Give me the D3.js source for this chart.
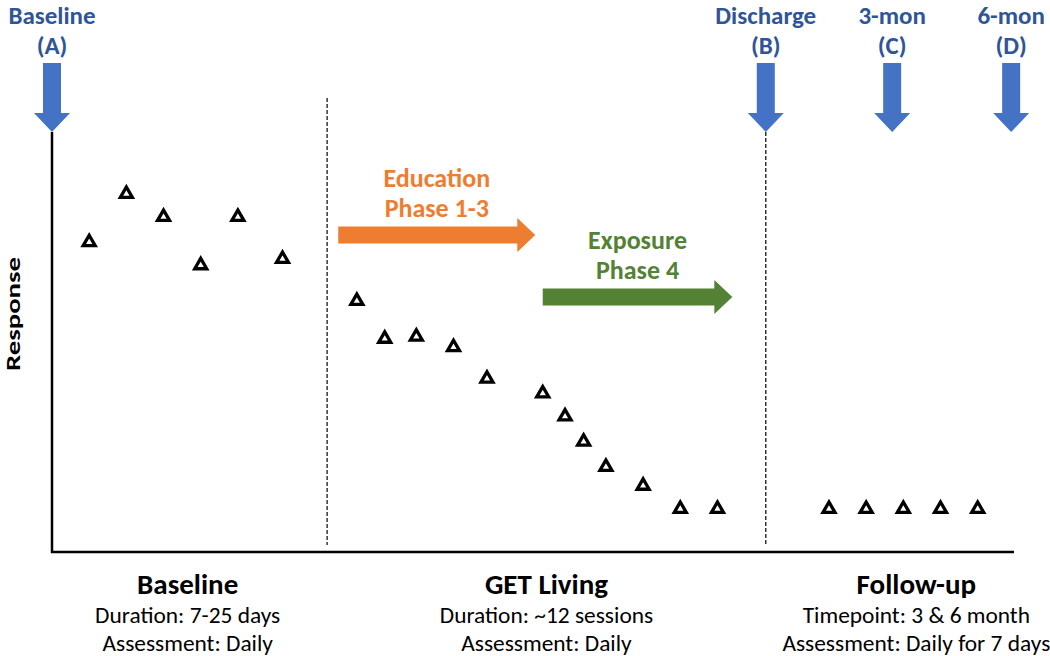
<!DOCTYPE html>
<html>
<head>
<meta charset="utf-8">
<script src="https://cdn.jsdelivr.net/npm/d3@7"></script>
<style>
	body { margin: 0; background: #fff; }
	text { font-family: Carlito, Calibri, Lato, sans-serif; }
</style>
</head>
<body>
<script>
"use strict";

//responses per phase (x in days/sessions, y in response units)
const baselineX = [1, 2, 3, 4, 5, 6.2];
const baselineY = [7.4, 8.55, 8.0, 6.85, 8.0, 7.0];
const treatX = [8.2, 8.95, 9.8, 10.8, 11.7, 13.2, 13.8, 14.3, 14.9, 15.9, 16.9, 17.9];
const treatY = [6.0, 5.1, 5.15, 4.9, 4.15, 3.8, 3.25, 2.65, 2.05, 1.6, 1.05, 1.05];
const followX = [20.9, 21.9, 22.9, 23.9, 24.9];
const followY = [1.05, 1.05, 1.05, 1.05, 1.05];

//phase dividers and assessment timepoints
const dividerX = [7.4, 19.2];
const timepointX = [0, 19.2, 22.6, 25.8];
const timepointTitle = ["Baseline", "Discharge", "3-mon", "6-mon"];
const timepointCode = ["(A)", "(B)", "(C)", "(D)"];

//treatment phase arrows
const phaseStart = [7.7, 13.2];
const phaseEnd = [13.0, 18.3];
const phaseLine1 = ["Education", "Exposure"];
const phaseLine2 = ["Phase 1-3", "Phase 4"];

//section captions under the axis
const sectionX = [3.65, 13.3, 23.25];
const sectionTitle = ["Baseline", "GET Living", "Follow-up"];
const sectionLine1 = ["Duration: 7-25 days", "Duration: ~12 sessions", "Timepoint: 3 & 6 month"];
const sectionLine2 = ["Assessment: Daily", "Assessment: Daily", "Assessment: Daily for 7 days"];

let width = 1050, height = 656;
let svg = d3.select("body").append("svg")
	.attr("width", width)
	.attr("height", height);

let x = d3.scaleLinear().domain([0, 25.5]).range([52, 1000]);
let y = d3.scaleLinear().domain([0, 10]).range([552, 132]);

//axes as plain lines (no ticks)
svg.append("path")
	.attr("d", "M" + x(0) + "," + y(10) + "V" + y(0) + "H1014")
	.attr("fill", "none")
	.attr("stroke", "black")
	.attr("stroke-width", 2.5);

//dividers
let dividerTop = [98, 132];
dividerX.forEach(function(d, i)
{
	svg.append("line")
		.attr("x1", x(d)).attr("x2", x(d))
		.attr("y1", dividerTop[i]).attr("y2", 545)
		.attr("stroke", "black")
		.attr("stroke-width", 1.2)
		.attr("stroke-dasharray", "4,2");
});

//blue timepoint arrows + labels
let arrow_blue = "#4472C4";
let label_blue = "#2F5597";
timepointX.forEach(function(d, i)
{
	let cx = x(d);
	svg.append("path")
		.attr("d", "M" + (cx - 9) + ",63 H" + (cx + 9) + " V113 H" + (cx + 18) +
			" L" + cx + ",132 L" + (cx - 18) + ",113 H" + (cx - 9) + "Z")
		.attr("fill", arrow_blue);
	let t = svg.append("text")
		.attr("text-anchor", "middle")
		.attr("fill", label_blue)
		.attr("font-weight", "bold")
		.attr("font-size", 25);
	t.append("tspan").attr("x", cx).attr("y", 24).text(timepointTitle[i]);
	t.append("tspan").attr("x", cx).attr("y", 54).text(timepointCode[i]);
});

//phase arrows
let phase_colors = ["#ED7D31", "#548235"];
let phase_y = [235, 297];
phaseStart.forEach(function(d, i)
{
	let x0 = x(d), x1 = x(phaseEnd[i]), cy = phase_y[i];
	let hw = 8.5, hh = 17, hl = 18;
	svg.append("path")
		.attr("d", "M" + x0 + "," + (cy - hw) + " H" + (x1 - hl) + " V" + (cy - hh) +
			" L" + x1 + "," + cy + " L" + (x1 - hl) + "," + (cy + hh) + " V" + (cy + hw) +
			" H" + x0 + "Z")
		.attr("fill", phase_colors[i]);
	let t = svg.append("text")
		.attr("text-anchor", "middle")
		.attr("fill", phase_colors[i])
		.attr("font-weight", "bold")
		.attr("font-size", 26);
	let cx = x0 + (x1 - x0) / 2;
	t.append("tspan").attr("x", cx).attr("y", cy - 48).text(phaseLine1[i]);
	t.append("tspan").attr("x", cx).attr("y", cy - 18).text(phaseLine2[i]);
});

//data triangles
let points = [];
baselineX.forEach(function(d, i) { points.push([d, baselineY[i]]); });
treatX.forEach(function(d, i) { points.push([d, treatY[i]]); });
followX.forEach(function(d, i) { points.push([d, followY[i]]); });

let tri = d3.symbol().type(d3.symbolTriangle).size(62);
svg.append("g")
	.selectAll("path")
	.data(points)
	.join("path")
	.attr("d", tri)
	.attr("transform", function(d) { return "translate(" + x(d[0]) + "," + (y(d[1]) + 1) + ")"; })
	.attr("fill", "none")
	.attr("stroke", "black")
	.attr("stroke-width", 3.3);

//y axis label
svg.append("text")
	.attr("transform", "translate(20,314) rotate(-90)")
	.attr("text-anchor", "middle")
	.attr("font-weight", "bold")
	.attr("font-size", 21)
	.attr("textLength", 114)
	.attr("lengthAdjust", "spacingAndGlyphs")
	.text("Response");

//section captions
sectionX.forEach(function(d, i)
{
	let cx = x(d);
	svg.append("text")
		.attr("x", cx).attr("y", 594)
		.attr("text-anchor", "middle")
		.attr("font-weight", "bold")
		.attr("font-size", 29)
		.text(sectionTitle[i]);
	svg.append("text")
		.attr("x", cx).attr("y", 623)
		.attr("text-anchor", "middle")
		.attr("font-size", 23.4)
		.text(sectionLine1[i]);
	svg.append("text")
		.attr("x", cx).attr("y", 651)
		.attr("text-anchor", "middle")
		.attr("font-size", 23.4)
		.text(sectionLine2[i]);
});
</script>
</body>
</html>
